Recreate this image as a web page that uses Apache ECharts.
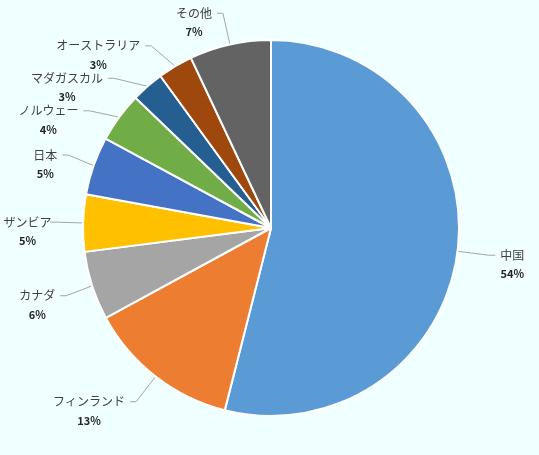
<!DOCTYPE html>
<html>
<head>
<meta charset="utf-8">
<script src="https://cdn.jsdelivr.net/npm/echarts@6/dist/echarts.min.js"></script>
<style>
  html, body { margin: 0; padding: 0; background: #F0FFFF; }
  #main { width: 539px; height: 455px; }
</style>
</head>
<body>
<div id="main"></div>
<script>
// slice order: clockwise from 12 o'clock
var names = ['中国', 'フィンランド', 'カナダ', 'ザンビア', '日本', 'ノルウェー', 'マダガスカル', 'オーストラリア', 'その他'];
var values = [53.9, 13.1, 5.9, 4.9, 5.0, 4.3, 2.8, 3.0, 7.0];
var colors = ['#5B9BD5', '#ED7D31', '#A5A5A5', '#FFC000', '#4472C4', '#70AD47', '#255E91', '#9E480E', '#636363'];

var chart = echarts.init(document.getElementById('main'));

var data = names.map(function(n, i) {
  return { name: n, value: values[i], itemStyle: { color: colors[i] } };
});

var option = {
  backgroundColor: '#F0FFFF',
  animation: false,
  series: [
    {
      type: 'pie',
      center: [271, 228],
      radius: 188,
      startAngle: 90,
      clockwise: true,
      avoidLabelOverlap: true,
      itemStyle: { borderColor: '#FFFFFF', borderWidth: 2 },
      label: {
        show: true,
        position: 'outside',
        overflow: 'none',
        edgeDistance: 4,
        // top padding keeps the leader line at the name's middle
        padding: [19, 0, 0, 0],
        formatter: function(p) {
          return '{n|' + p.name + '}\n{p|' + Math.round(p.percent) + '%}';
        },
        rich: {
          n: { fontSize: 12, color: '#404040', fontFamily: 'Noto Sans CJK JP', lineHeight: 19, align: 'center' },
          p: { fontSize: 11, color: '#262626', fontWeight: 'bold', fontFamily: 'Noto Sans CJK JP', lineHeight: 19, align: 'center' }
        }
      },
      labelLine: {
        show: true,
        length: 32,
        length2: 6,
        lineStyle: { color: '#A6A6A6', width: 1 }
      },
      data: data
    }
  ]
};

chart.setOption(option);
</script>
</body>
</html>
